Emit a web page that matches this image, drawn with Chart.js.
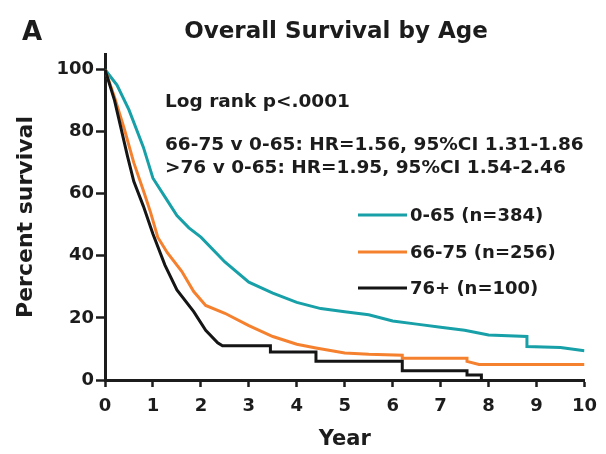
<!DOCTYPE html>
<html>
<head>
<meta charset="utf-8">
<script src="https://cdn.jsdelivr.net/npm/chart.js@4.4.1/dist/chart.umd.min.js"></script>
<style>
  html, body { margin: 0; padding: 0; background: #fff; }
  #wrap { width: 606px; height: 454px; position: relative; }
</style>
</head>
<body>
<div id="wrap"><canvas id="km"></canvas></div>
<script>
// Kaplan-Meier estimates, percent surviving by year since diagnosis
const yearsYoung = [0, 0.1, 0.25, 0.5, 0.8, 1.0, 1.25, 1.5, 1.75, 2.0, 2.5, 3.0, 3.5, 4.0, 4.5, 5.0, 5.5, 6.0, 6.5, 7.0, 7.5, 8.0, 8.8, 8.8, 9.5, 10];
const survYoung  = [100, 98, 95, 87, 75, 65, 59, 53, 49, 46, 38, 31.5, 28, 25, 23, 22, 21, 19, 18, 17, 16, 14.5, 14, 10.8, 10.5, 9.4];

const yearsMid = [0, 0.2, 0.4, 0.6, 0.8, 0.95, 1.1, 1.3, 1.6, 1.85, 2.1, 2.5, 3.0, 3.5, 4.0, 4.4, 5.0, 5.5, 6.2, 6.2, 7.55, 7.55, 7.8, 10];
const survMid  = [100, 91, 81, 70, 61, 54, 46, 41, 35, 28.5, 24, 21.5, 17.5, 14, 11.5, 10.3, 8.7, 8.3, 8, 7, 7, 6, 5, 5];

const yearsOld = [0, 0.2, 0.47, 0.6, 0.8, 1.0, 1.25, 1.5, 1.85, 2.1, 2.35, 2.45, 3.45, 3.45, 4.4, 4.4, 6.2, 6.2, 7.55, 7.55, 7.85, 7.85];
const survOld  = [100, 90, 72, 64, 56, 47, 37, 29, 22, 16, 12, 11, 11, 9, 9, 6, 6, 3, 3, 1.6, 1.6, 0];

const yTickValues = [0, 20, 40, 60, 80, 100];

const groupLabels = ['0-65 (n=384)', '66-75 (n=256)', '76+ (n=100)'];
const groupColors = ['#18a0a8', '#f5812f', '#151515'];

const statLines = [
  'Log rank p<.0001',
  '66-75 v 0-65: HR=1.56, 95%CI 1.31-1.86',
  '>76 v 0-65: HR=1.95, 95%CI 1.54-2.46',
];

const FONT = '"DejaVu Sans", Verdana, sans-serif';
const INK = '#1c1c1c';

const toPoints = (xs, ys) => xs.map((x, i) => ({ x, y: ys[i] }));

const series = [
  toPoints(yearsYoung, survYoung),
  toPoints(yearsMid, survMid),
  toPoints(yearsOld, survOld),
];

// black drawn last so it sits on top
const datasets = series.map((pts, i) => ({
  label: groupLabels[i],
  data: pts,
  borderColor: groupColors[i],
  backgroundColor: groupColors[i],
  borderWidth: 3,
  pointRadius: 0,
  showLine: true,
  tension: 0,
  order: 2 - i,
}));

// panel letter, title, test statistics and in-plot legend
const annotations = {
  id: 'annotations',
  afterDraw(chart) {
    const ctx = chart.ctx;
    ctx.save();
    ctx.fillStyle = INK;
    ctx.textBaseline = 'alphabetic';

    ctx.font = `bold 26px ${FONT}`;
    ctx.textAlign = 'left';
    ctx.fillText('A', 22, 40);

    ctx.font = `bold 23px ${FONT}`;
    ctx.textAlign = 'center';
    ctx.fillText('Overall Survival by Age', 336, 38);

    ctx.textAlign = 'left';
    ctx.font = `bold 18.5px ${FONT}`;
    ctx.fillText(statLines[0], 165, 107);
    ctx.fillText(statLines[1], 165, 150);
    ctx.fillText(statLines[2], 165, 173);

    const rows = [215, 252, 288];
    ctx.font = `bold 18px ${FONT}`;
    ctx.textBaseline = 'middle';
    chart.data.datasets.forEach((ds, i) => {
      const y = rows[i];
      ctx.strokeStyle = ds.borderColor;
      ctx.lineWidth = 3;
      ctx.beginPath();
      ctx.moveTo(358, y);
      ctx.lineTo(407, y);
      ctx.stroke();
      ctx.fillStyle = INK;
      ctx.fillText(ds.label, 410, y + 1);
    });
    ctx.restore();
  },
};

new Chart(document.getElementById('km'), {
  type: 'scatter',
  data: { datasets },
  plugins: [annotations],
  options: {
    responsive: true,
    maintainAspectRatio: false,
    animation: false,
    layout: { padding: { top: 54, right: 16, left: 0, bottom: 0 } },
    plugins: {
      legend: { display: false },
      tooltip: { enabled: false },
    },
    scales: {
      x: {
        type: 'linear',
        min: 0,
        max: 10,
        afterFit: (scale) => { scale.height = 74; },
        border: { display: true, color: INK, width: 3 },
        grid: { display: true, drawOnChartArea: false, drawTicks: true, tickLength: 7, tickWidth: 2.5, tickColor: INK },
        ticks: { stepSize: 1, color: INK, padding: 9, font: { family: FONT, size: 18, weight: 'bold' } },
        title: { display: true, text: 'Year', color: INK, padding: { top: 0, bottom: 2 }, font: { family: FONT, size: 21, weight: 'bold' } },
      },
      y: {
        type: 'linear',
        min: 0,
        max: 105,
        afterFit: (scale) => { scale.width = 105; },
        afterBuildTicks: (scale) => { scale.ticks = yTickValues.map(v => ({ value: v })); },
        border: { display: true, color: INK, width: 3 },
        grid: { display: true, drawOnChartArea: false, drawTicks: true, tickLength: 9, tickWidth: 2.5, tickColor: INK },
        ticks: { color: INK, padding: 2, font: { family: FONT, size: 18, weight: 'bold' } },
        title: { display: true, text: 'Percent survival', color: INK, padding: { top: 13, bottom: 0 }, font: { family: FONT, size: 22, weight: 'bold' } },
      },
    },
  },
});
</script>
</body>
</html>
